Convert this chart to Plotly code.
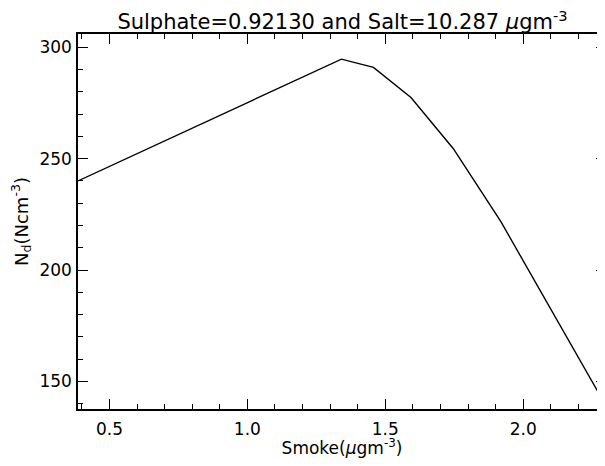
import plotly.graph_objects as go

smoke = [0.386, 1.341, 1.457, 1.593, 1.746, 1.919, 2.30]
nd = [240.0, 294.7, 291.0, 277.5, 254.6, 221.7, 139.0]

x_range = [0.386, 2.30]
y_range = [137.6, 306.0]

title_text = "Sulphate=0.92130 and Salt=10.287 <i>μ</i>gm<sup>-3</sup>"
x_title = "Smoke(<i>μ</i>gm<sup>-3</sup>)"
y_title = "N<sub>d</sub>(Ncm<sup>-3</sup>)"

fig = go.Figure()
fig.add_trace(go.Scatter(x=smoke, y=nd, mode="lines",
                         line=dict(color="black", width=1.4), showlegend=False))

font = "DejaVu Sans"
axis_common = dict(
    showgrid=False, zeroline=False, showline=True, linecolor="black", linewidth=1.5,
    mirror="ticks", ticks="inside", ticklen=10, tickwidth=1.2, tickcolor="black",
    tickfont=dict(family=font, size=17, color="black"), automargin=False,
)
fig.update_xaxes(range=x_range, tick0=0.5, dtick=0.5, tickformat=".1f", ticklabelstandoff=4,
                 minor=dict(dtick=0.1, tick0=0.5, ticks="inside", ticklen=5, tickcolor="black", tickwidth=1.2),
                 title=dict(text=x_title, font=dict(family=font, size=17, color="black"), standoff=4),
                 **axis_common)
fig.update_yaxes(range=y_range, tick0=150, dtick=50, ticklabelstandoff=1,
                 minor=dict(dtick=10, tick0=150, ticks="inside", ticklen=5, tickcolor="black", tickwidth=1.2),
                 title=dict(text=y_title, font=dict(family=font, size=18, color="black"), standoff=10),
                 **axis_common)
fig.update_layout(
    width=598, height=450,
    margin=dict(l=70, r=0, t=26, b=49, autoexpand=False),
    paper_bgcolor="white", plot_bgcolor="white",
    title=dict(text=title_text, x=0.5594, xanchor="center", y=0.985, yanchor="top",
               font=dict(family=font, size=21, color="black"), automargin=False),
)
fig.write_html("out.html")
